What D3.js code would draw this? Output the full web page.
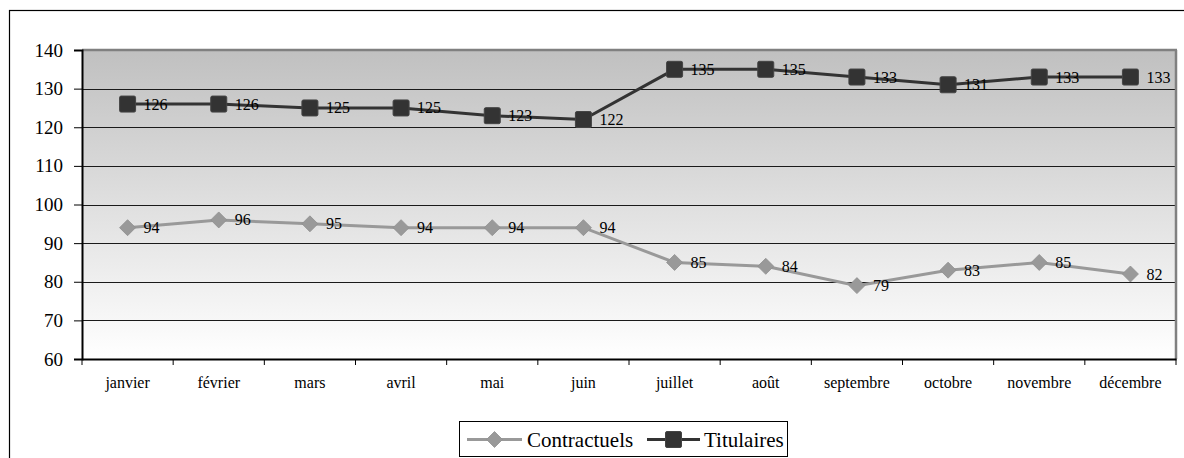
<!DOCTYPE html>
<html>
<head>
<meta charset="utf-8">
<script src="https://cdn.jsdelivr.net/npm/d3@7/dist/d3.min.js"></script>
<style>
  html, body { margin: 0; padding: 0; background: #fff; }
  svg text { font-family: "Liberation Serif", "Times New Roman", Times, "DejaVu Serif", serif; }
</style>
</head>
<body>
<svg id="chart" width="1184" height="458"></svg>
<script>
// Monthly staff counts
const months = ["janvier", "février", "mars", "avril", "mai", "juin",
                "juillet", "août", "septembre", "octobre", "novembre", "décembre"];
const contractuels = [94, 96, 95, 94, 94, 94, 85, 84, 79, 83, 85, 82];
const titulaires = [126, 126, 125, 125, 123, 122, 135, 135, 133, 131, 133, 133];
const yTicks = [60, 70, 80, 90, 100, 110, 120, 130, 140];

const svg = d3.select("#chart");
const plot = { left: 82, right: 1176, top: 50, bottom: 359 };

const x = d3.scaleBand().domain(months).range([plot.left, plot.right]);
const y = d3.scaleLinear().domain([60, 140]).range([plot.bottom, plot.top]);
const cx = m => x(m) + x.bandwidth() / 2;

// outer frame
svg.append("rect")
  .attr("x", 9.5).attr("y", 10.5).attr("width", 1200).attr("height", 500)
  .attr("fill", "none").attr("stroke", "#000").attr("stroke-width", 1.2);

// plot background gradient
const defs = svg.append("defs");
const grad = defs.append("linearGradient").attr("id", "bg")
  .attr("x1", 0).attr("y1", 0).attr("x2", 0).attr("y2", 1);
grad.append("stop").attr("offset", "0%").attr("stop-color", "#c0c0c0");
grad.append("stop").attr("offset", "100%").attr("stop-color", "#ffffff");

svg.append("rect")
  .attr("x", plot.left).attr("y", plot.top)
  .attr("width", plot.right - plot.left).attr("height", plot.bottom - plot.top)
  .attr("fill", "url(#bg)");

// horizontal gridlines
svg.append("g").selectAll("line")
  .data(yTicks.filter(v => v > 60 && v < 140))
  .join("line")
  .attr("x1", plot.left).attr("x2", plot.right)
  .attr("y1", d => Math.round(y(d)) + 0.5).attr("y2", d => Math.round(y(d)) + 0.5)
  .attr("stroke", "#1a1a1a").attr("stroke-width", 1);

// top and right plot borders
svg.append("line")
  .attr("x1", plot.left).attr("x2", plot.right + 1)
  .attr("y1", plot.top).attr("y2", plot.top)
  .attr("stroke", "#808080").attr("stroke-width", 2.5);
svg.append("line")
  .attr("x1", plot.right).attr("x2", plot.right)
  .attr("y1", plot.top).attr("y2", plot.bottom)
  .attr("stroke", "#808080").attr("stroke-width", 2.5);

// y axis
const yAxis = svg.append("g")
  .attr("transform", `translate(${plot.left},0)`)
  .call(d3.axisLeft(y).tickValues(yTicks).tickSize(8).tickPadding(11));
yAxis.attr("font-family", null);
yAxis.select(".domain").attr("stroke", "#000").attr("stroke-width", 2);
yAxis.selectAll(".tick line").attr("stroke", "#000").attr("stroke-width", 1);
yAxis.selectAll(".tick text")
  .attr("font-size", 19).attr("fill", "#000");

// x axis with ticks at the category boundaries
const xAxis = svg.append("g")
  .attr("transform", `translate(0,${plot.bottom})`)
  .call(d3.axisBottom(x).tickSize(0).tickPadding(18));
xAxis.attr("font-family", null);
xAxis.select(".domain").attr("stroke", "#000").attr("stroke-width", 2);
xAxis.selectAll(".tick text")
  .attr("font-size", 16).attr("fill", "#000");
xAxis.append("g").selectAll("line")
  .data(months.map(m => x(m)).concat([plot.right]))
  .join("line")
  .attr("x1", d => d).attr("x2", d => d)
  .attr("y1", 0).attr("y2", 6)
  .attr("stroke", "#000").attr("stroke-width", 1);

// series
const series = [
  { name: "Contractuels", values: contractuels, color: "#999999", marker: "diamond" },
  { name: "Titulaires", values: titulaires, color: "#333333", marker: "square" }
];

const line = d3.line().x(d => cx(d.m)).y(d => y(d.v));

function drawMarker(g, kind, color) {
  if (kind === "square") {
    g.append("rect")
      .attr("x", -8).attr("y", -8).attr("width", 16).attr("height", 16)
      .attr("rx", 1.5)
      .attr("fill", color).attr("stroke", "#444").attr("stroke-width", 1);
  } else {
    g.append("path")
      .attr("d", "M0,-8 L8,0 L0,8 L-8,0 Z")
      .attr("fill", color).attr("stroke", "#8f8f8f").attr("stroke-width", 0.8);
  }
}

series.forEach(s => {
  const pts = s.values.map((v, i) => ({ m: months[i], v }));
  svg.append("path")
    .datum(pts)
    .attr("d", line)
    .attr("fill", "none")
    .attr("stroke", s.color)
    .attr("stroke-width", 3);

  const g = svg.append("g").selectAll("g")
    .data(pts).join("g")
    .attr("transform", d => `translate(${cx(d.m)},${y(d.v)})`);
  g.each(function () { drawMarker(d3.select(this), s.marker, s.color); });

  // value labels to the right of each marker
  svg.append("g").selectAll("text")
    .data(pts).join("text")
    .attr("x", d => cx(d.m) + 16)
    .attr("y", d => y(d.v) + 5.5)
    .attr("font-size", 16)
    .attr("fill", "#000")
    .text(d => d.v);
});

// legend
const legend = svg.append("g");
legend.append("rect")
  .attr("x", 459.5).attr("y", 421.5).attr("width", 328).attr("height", 35)
  .attr("fill", "#fff").attr("stroke", "#000").attr("stroke-width", 1);

const legendItems = [
  { s: series[0], x0: 467, x1: 522, text: 527 },
  { s: series[1], x0: 647, x1: 700, text: 704 }
];
legendItems.forEach(it => {
  const ly = 439.5;
  legend.append("line")
    .attr("x1", it.x0).attr("x2", it.x1).attr("y1", ly).attr("y2", ly)
    .attr("stroke", it.s.color).attr("stroke-width", 3);
  const mg = legend.append("g").attr("transform", `translate(${(it.x0 + it.x1) / 2},${ly})`);
  drawMarker(mg, it.s.marker, it.s.color);
  legend.append("text")
    .attr("x", it.text).attr("y", ly + 7.5)
    .attr("font-size", 21).attr("fill", "#000")
    .text(it.s.name);
});
</script>
</body>
</html>
